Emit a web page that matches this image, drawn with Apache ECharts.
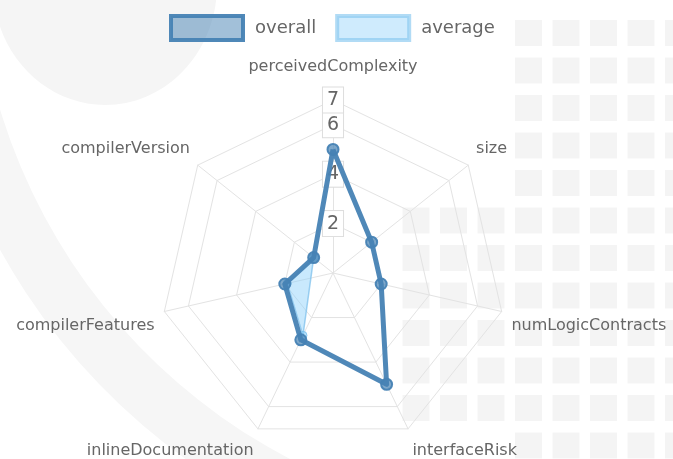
<!DOCTYPE html>
<html>
<head>
<meta charset="utf-8">
<title>radar</title>
<script src="https://cdn.jsdelivr.net/npm/echarts@6/dist/echarts.min.js"></script>
<style>
  html, body { margin: 0; padding: 0; background: #fff; }
  #main { width: 673px; height: 459px; }
</style>
</head>
<body>
<div id="main"></div>
<script>
// indicators in the order they appear, counter-clockwise from the top
var indicators = ['perceivedComplexity', 'compilerVersion', 'compilerFeatures', 'inlineDocumentation', 'interfaceRisk', 'numLogicContracts', 'size'];
var overallValues = [5, 1, 2, 3, 5, 2, 2];
// average only has values on three axes, the rest are missing
var averageValues = [null, 1, 1.9, 2.8, null, null, null];
var axisMax = 7;
var tickStep = 2;   // ticks 2, 4, 6 and then the max 7

// which way each axis name is nudged (chart.js style placement)
var nameShift = {
  perceivedComplexity: 'top',
  compilerVersion: 'up',
  size: 'up',
  compilerFeatures: 'down',
  numLogicContracts: 'down',
  inlineDocumentation: 'down',
  interfaceRisk: 'down'
};

var cx = 333, cy = 273, R = 173;
var innerMax = Math.floor(axisMax / tickStep) * tickStep;   // last even tick

var tickLabel = {
  show: true,
  showMinLabel: false,
  margin: 0,
  align: 'center',
  verticalAlign: 'middle',
  fontSize: 19,
  color: '#666',
  backgroundColor: '#fff',
  borderColor: '#ddd',
  borderWidth: 1,
  padding: [3, 4]
};
var gridLine = { lineStyle: { color: '#e3e3e3', width: 1 } };

// faint watermark in the background
function watermark() {
  var els = [];
  els.push({ type: 'ellipse', shape: { cx: 105, cy: -15, rx: 112, ry: 120 }, style: { fill: '#f5f5f5' } });
  els.push({
    type: 'sector',
    shape: { cx: 560, cy: -60, r0: 585, r: 640, startAngle: Math.PI * 0.55, endAngle: Math.PI * 1.02 },
    style: { fill: '#f6f6f6' }
  });
  for (var r = 0; r < 12; r++) {
    var y = 20 + r * 37.5;
    for (var c = -3; c < 5; c++) {
      var x = 515 + c * 37.5;
      if (c < 0 && (r < 5 || r > 10)) continue;
      els.push({ type: 'rect', shape: { x: x, y: y, width: 27, height: 26 }, style: { fill: '#f4f4f4' } });
    }
  }
  return { type: 'group', z: -100, silent: true, children: els };
}

var chart = echarts.init(document.getElementById('main'));

chart.setOption({
  backgroundColor: '#fff',
  textStyle: { fontFamily: 'DejaVu Sans' },
  graphic: { elements: [watermark()] },
  legend: {
    left: 169,
    top: 14,
    padding: 0,
    icon: 'rect',
    itemWidth: 72,
    itemHeight: 24,
    itemGap: 19,
    textStyle: { fontSize: 18, color: '#666', padding: [0, 0, 0, 7] },
    data: [
      { name: 'overall', itemStyle: { color: 'rgba(70,130,180,0.5)', borderColor: 'rgba(70,130,180,0.95)', borderWidth: 4 } },
      { name: 'average', itemStyle: { color: 'rgba(135,206,250,0.4)', borderColor: 'rgba(135,200,240,0.65)', borderWidth: 4 } }
    ]
  },
  radar: [
    {
      // inner rings at the even ticks
      center: [cx, cy],
      radius: R * innerMax / axisMax,
      shape: 'polygon',
      splitNumber: innerMax / tickStep,
      axisName: { show: false },
      axisLine: { show: false },
      splitLine: gridLine,
      splitArea: { show: false },
      axisLabel: { show: false },
      indicator: indicators.map(function (name, i) {
        var ind = { name: name, min: 0, max: innerMax };
        if (i === 0) ind.axisLabel = tickLabel;
        return ind;
      })
    },
    {
      // outer ring at the max, spokes and names
      center: [cx, cy],
      radius: R,
      shape: 'polygon',
      splitNumber: 1,
      nameGap: 10,
      axisName: {
        color: '#666',
        fontSize: 16,
        formatter: function (name) {
          return '{' + nameShift[name] + '|' + name + '}';
        },
        rich: {
          top: { fontSize: 16, color: '#666', padding: [0, 0, 15, 0] },
          up: { fontSize: 16, color: '#666', padding: [0, 0, 20, 0] },
          down: { fontSize: 16, color: '#666', padding: [25, 0, 0, 0] }
        }
      },
      axisLine: gridLine,
      splitLine: gridLine,
      splitArea: { show: false },
      axisLabel: { show: false },
      indicator: indicators.map(function (name, i) {
        var ind = { name: name, min: 0, max: axisMax };
        if (i === 0) ind.axisLabel = tickLabel;
        return ind;
      })
    }
  ],
  // polar system laid over the radar, used only for the average outline
  polar: { center: [cx, cy], radius: R },
  angleAxis: { type: 'value', min: 0, max: indicators.length, startAngle: 90, clockwise: false, show: false },
  radiusAxis: { min: 0, max: axisMax, show: false },
  series: [
    {
      type: 'custom',
      name: 'average',
      coordinateSystem: 'polar',
      z: 2,
      data: [0],
      renderItem: function (params, api) {
        var pts = [];
        averageValues.forEach(function (v, i) {
          if (v != null) pts.push(api.coord([v, i]));
        });
        var kids = [{
          type: 'polygon',
          shape: { points: pts },
          style: { fill: 'rgba(135,206,250,0.45)', stroke: 'rgba(120,190,235,0.7)', lineWidth: 1.5 }
        }];
        pts.forEach(function (p) {
          kids.push({ type: 'circle', shape: { cx: p[0], cy: p[1], r: 4 }, style: { fill: 'rgba(135,206,250,0.6)', stroke: 'rgba(120,190,235,0.8)', lineWidth: 1 } });
        });
        return { type: 'group', children: kids };
      }
    },
    {
      type: 'radar',
      name: 'overall',
      radarIndex: 1,
      z: 3,
      symbol: 'circle',
      symbolSize: 11,
      lineStyle: { color: 'rgba(70,130,180,0.95)', width: 5, join: 'round' },
      itemStyle: { color: 'rgba(70,130,180,0.7)', borderColor: 'rgba(70,130,180,0.95)', borderWidth: 2 },
      data: [{ name: 'overall', value: overallValues }]
    }
  ]
});
</script>
</body>
</html>
